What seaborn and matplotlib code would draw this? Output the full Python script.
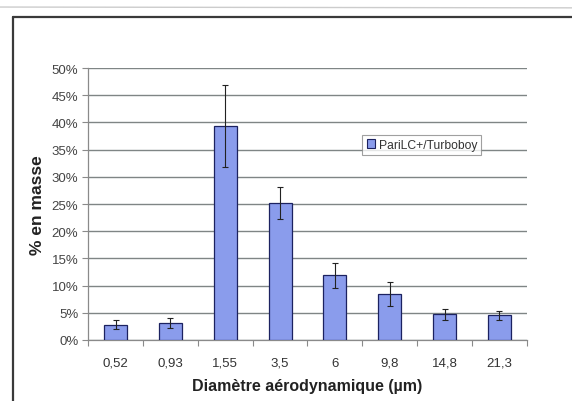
import numpy as np
import pandas as pd
import seaborn as sns
import matplotlib.pyplot as plt
from matplotlib.lines import Line2D
from matplotlib.patches import Patch
from matplotlib.ticker import PercentFormatter, FixedLocator

diameters = ["0,52", "0,93", "1,55", "3,5", "6", "9,8", "14,8", "21,3"]
mass_pct = [2.8, 3.1, 39.4, 25.2, 11.9, 8.5, 4.7, 4.5]
err_pct = [0.8, 1.0, 7.5, 2.9, 2.3, 2.2, 1.0, 0.8]
series_name = "PariLC+/Turboboy"

df = pd.DataFrame({"diam": diameters, "mass": mass_pct, "err": err_pct})

sns.set_theme(style="white")
plt.rcParams["font.family"] = ["Liberation Sans", "DejaVu Sans"]

fig = plt.figure(figsize=(5.72, 4.02), dpi=100)
ax = fig.add_axes([0.154, 0.152, 0.767, 0.676])

bar_col = "#8a9cec"
sns.barplot(data=df, x="diam", y="mass", color=bar_col, width=0.42,
            edgecolor="#1c2260", linewidth=0.9, saturation=1, ax=ax, zorder=3)
ax.errorbar(np.arange(len(diameters)), df["mass"], yerr=df["err"], fmt="none",
            ecolor="#222222", elinewidth=0.8, capsize=2.5, capthick=0.8, zorder=4)

ax.set_ylim(0, 50)
ax.set_xlim(-0.5, len(diameters) - 0.5)
ax.yaxis.set_major_locator(FixedLocator(np.arange(0, 51, 5)))
ax.yaxis.set_major_formatter(PercentFormatter(decimals=0))
ax.grid(axis="y", color="#7f8585", linewidth=1.0, zorder=0)
ax.set_axisbelow(True)

for s in ["top", "right"]:
    ax.spines[s].set_visible(False)
for s in ["left", "bottom"]:
    ax.spines[s].set_color("#8a8a8a")
    ax.spines[s].set_linewidth(0.9)

# category separators as ticks on the x axis
ax.set_xticks(np.arange(len(diameters)))
ax.set_xticklabels(diameters)
ax.set_xticks(np.arange(len(diameters) + 1) - 0.5, minor=True)
ax.tick_params(axis="x", which="major", length=0, pad=12, labelsize=9.5, labelcolor="#333333")
ax.tick_params(axis="x", which="minor", length=4, width=0.8, color="#8a8a8a", direction="out", bottom=True)
ax.tick_params(axis="y", length=4, width=0.8, color="#8a8a8a", direction="out", left=True,
               labelsize=9.5, labelcolor="#444444", pad=3)

ax.set_xlabel("Diamètre aérodynamique (µm)", fontsize=11.5, fontweight="bold", color="#222222", labelpad=7)
ax.set_ylabel("% en masse", fontsize=12.5, fontweight="bold", color="#222222", labelpad=5)

handles = [Patch(facecolor=bar_col, edgecolor="#1c2260", linewidth=0.8, label=series_name)]
leg = ax.legend(handles=handles, loc="upper left", bbox_to_anchor=(0.625, 0.755),
                frameon=True, fontsize=8.7, handlelength=0.7, handleheight=0.7,
                handletextpad=0.3, borderpad=0.35, fancybox=False, borderaxespad=0)
leg.get_frame().set_edgecolor("#888888")
leg.get_frame().set_linewidth(0.8)
for t in leg.get_texts():
    t.set_color("#333333")

# outer chart frame (top and left edges visible)
fig.add_artist(Line2D([0.023, 1.0], [0.955, 0.955], transform=fig.transFigure,
                      color="#3a3a3a", linewidth=1.6))
fig.add_artist(Line2D([0.023, 0.023], [0.0, 0.955], transform=fig.transFigure,
                      color="#3a3a3a", linewidth=1.6))
fig.add_artist(Line2D([0.0, 1.0], [0.98, 0.978], transform=fig.transFigure,
                      color="#cccccc", linewidth=1.0))

fig.savefig("out.png", dpi=100)
